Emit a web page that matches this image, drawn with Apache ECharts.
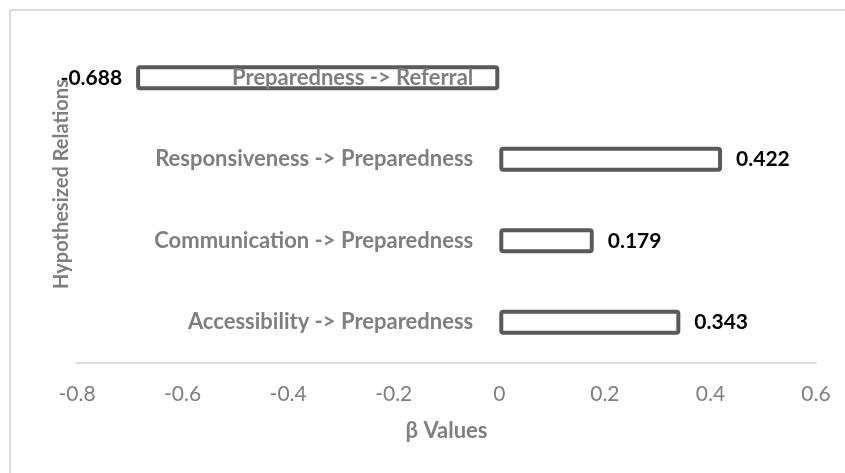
<!DOCTYPE html>
<html>
<head>
<meta charset="utf-8">
<script src="https://cdn.jsdelivr.net/npm/echarts@6/dist/echarts.min.js"></script>
<style>
  html, body { margin: 0; padding: 0; background: #fff; }
  #chart { width: 845px; height: 473px; }
</style>
</head>
<body>
<div id="chart"></div>
<script>
// Path coefficients per hypothesized relation (bottom to top)
const relations = [
  'Accessibility -> Preparedness',
  'Communication -> Preparedness',
  'Responsiveness -> Preparedness',
  'Preparedness -> Referral'
];
const betaValues = [0.343, 0.179, 0.422, -0.688];
const xTicks = { min: -0.8, max: 0.6, interval: 0.2 };

const W = 845;
const gridBox = { left: 77, right: 29, top: 37, bottom: 110 };
// shift the category axis so its labels end just left of x = 0
const plotWidth = W - gridBox.left - gridBox.right;
const zeroShift = (0 - xTicks.min) / (xTicks.max - xTicks.min) * plotWidth;

const chart = echarts.init(document.getElementById('chart'), null, { renderer: 'canvas' });

const barData = betaValues.map(v => ({
  value: v,
  label: { position: v < 0 ? 'left' : 'right' }
}));

chart.setOption({
  animation: false,
  backgroundColor: '#ffffff',
  grid: Object.assign({ containLabel: false, outerBoundsMode: 'none' }, gridBox),
  xAxis: {
    type: 'value',
    min: xTicks.min,
    max: xTicks.max,
    interval: xTicks.interval,
    name: 'β Values',
    nameLocation: 'middle',
    nameGap: 57,
    nameTextStyle: { fontFamily: 'Lato', fontWeight: 'bold', fontSize: 22, color: '#7f7f7f' },
    axisLine: { show: true, onZero: false, lineStyle: { color: '#d9d9d9', width: 2 } },
    axisTick: { show: false },
    splitLine: { show: false },
    axisLabel: {
      margin: 21,
      fontFamily: 'Lato',
      fontSize: 21,
      color: '#7f7f7f',
      formatter: v => String(Math.round(v * 10) / 10)
    }
  },
  yAxis: {
    type: 'category',
    data: relations,
    position: 'left',
    offset: -zeroShift,
    z: 5,
    axisLine: { show: false, onZero: false },
    axisTick: { show: false },
    splitLine: { show: false },
    axisLabel: {
      margin: 26,
      fontFamily: 'Lato',
      fontWeight: 'bold',
      fontSize: 22,
      color: '#7f7f7f',
      padding: [0, 0, 3, 0]
    }
  },
  series: [{
    type: 'bar',
    data: barData,
    barWidth: 25,
    itemStyle: {
      color: '#ffffff',
      borderColor: '#5a5a5a',
      borderWidth: 4,
      borderRadius: 2
    },
    label: {
      show: true,
      distance: 14,
      fontFamily: 'Lato',
      fontWeight: 'bold',
      fontSize: 21,
      color: '#000000',
      formatter: p => p.value.toFixed(3)
    }
  }],
  graphic: [
    // frame lines along the top and left edges
    { type: 'line', shape: { x1: 10, y1: 10, x2: 845, y2: 10 }, style: { stroke: '#d9d9d9', lineWidth: 2 }, silent: true },
    { type: 'line', shape: { x1: 10, y1: 10, x2: 10, y2: 473 }, style: { stroke: '#d9d9d9', lineWidth: 2 }, silent: true },
    {
      type: 'text',
      x: 62,
      y: 184,
      rotation: Math.PI / 2,
      style: {
        text: 'Hypothesized Relations',
        fontFamily: 'Lato',
        fontWeight: 'bold',
        fontSize: 20,
        fill: '#7f7f7f',
        align: 'center',
        verticalAlign: 'middle'
      },
      z: 10
    }
  ]
});
</script>
</body>
</html>
